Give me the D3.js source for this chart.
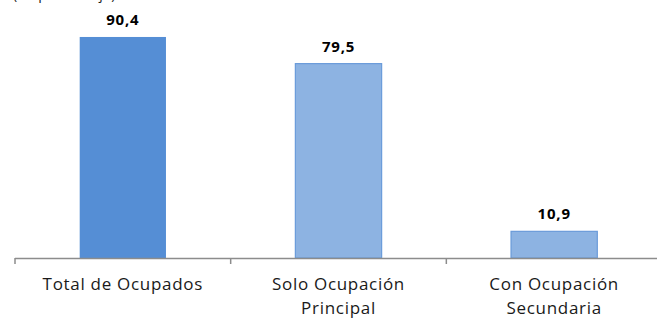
<!DOCTYPE html>
<html>
<head>
<meta charset="utf-8">
<script src="https://cdn.jsdelivr.net/npm/d3@7"></script>
<style>
body { margin: 0; background: #fff; }
svg { display: block; }
.cat { font-family: "Open Sans", sans-serif; font-size: 17px; fill: #1a1a1a; }
.note { font-family: "Open Sans", sans-serif; font-size: 14px; fill: #1a1a1a; }
.val { font-family: "Open Sans", sans-serif; font-size: 15px; font-weight: bold; fill: #000; }
</style>
</head>
<body>
<div id="chart"></div>
<script>
// data
var categories = ["Total de Ocupados", "Solo Ocupación Principal", "Con Ocupación Secundaria"];
var catLines = [["Total de Ocupados"], ["Solo Ocupación", "Principal"], ["Con Ocupación", "Secundaria"]];
var values = [90.4, 79.5, 10.9];
var fills = ["#558ED5", "#8DB3E2", "#8DB3E2"];

var width = 657, height = 318;
var baseY = 258;

var svg = d3.select("#chart").append("svg")
    .attr("width", width)
    .attr("height", height);

var x = d3.scaleBand()
    .domain(categories)
    .range([15, 662])
    .paddingInner(0.6)
    .paddingOuter(0.3);

var y = d3.scaleLinear()
    .domain([0, 100])
    .range([baseY, baseY - 244.5]);

var fmt = d3.formatLocale({decimal: ",", thousands: ".", grouping: [3], currency: ["", ""]}).format(".1f");

// unit note, cut off at the very top as in the original
svg.append("text")
    .attr("class", "note")
    .attr("x", 13)
    .attr("y", -1)
    .attr("letter-spacing", "0.3px")
    .text("(En porcentaje)");

// bars
svg.selectAll("rect.bar")
    .data(values)
    .enter().append("rect")
    .attr("class", "bar")
    .attr("x", function(d, i) { return x(categories[i]); })
    .attr("y", function(d) { return y(d); })
    .attr("width", x.bandwidth())
    .attr("height", function(d) { return y(0) - y(d); })
    .attr("fill", function(d, i) { return fills[i]; })
    .attr("stroke", function(d, i) { return i == 0 ? "none" : "#6A9BDA"; })
    .attr("stroke-width", 1.2);

// value labels
svg.selectAll("text.val")
    .data(values)
    .enter().append("text")
    .attr("class", "val")
    .attr("text-anchor", "middle")
    .attr("letter-spacing", "0.8px")
    .attr("x", function(d, i) { return x(categories[i]) + x.bandwidth() / 2; })
    .attr("y", function(d) { return y(d) - 12; })
    .text(function(d) { return fmt(d); });

// axis line with ticks between categories
var step = x.step();
var edges = categories.map(function(c) { return x(c) - step * x.paddingInner() / 2; });
var axis = svg.append("g");
axis.append("line")
    .attr("x1", edges[0]).attr("x2", width)
    .attr("y1", baseY + 0.5).attr("y2", baseY + 0.5)
    .attr("stroke", "#8C8C8C").attr("stroke-width", 1.5);
axis.selectAll("line.tick")
    .data(edges)
    .enter().append("line")
    .attr("class", "tick")
    .attr("x1", function(d) { return d; }).attr("x2", function(d) { return d; })
    .attr("y1", baseY).attr("y2", baseY + 6)
    .attr("stroke", "#8C8C8C").attr("stroke-width", 1.5);

// category labels
var lab = svg.selectAll("text.lab")
    .data(catLines)
    .enter().append("text")
    .attr("class", "cat lab")
    .attr("text-anchor", "middle")
    .attr("letter-spacing", "0.7px")
    .attr("x", function(d, i) { return x(categories[i]) + x.bandwidth() / 2; })
    .attr("y", 290);
lab.selectAll("tspan")
    .data(function(d) { return d; })
    .enter().append("tspan")
    .attr("x", function() { return d3.select(this.parentNode).attr("x"); })
    .attr("dy", function(d, i) { return i == 0 ? 0 : 23.5; })
    .text(function(d) { return d; });
</script>
</body>
</html>
